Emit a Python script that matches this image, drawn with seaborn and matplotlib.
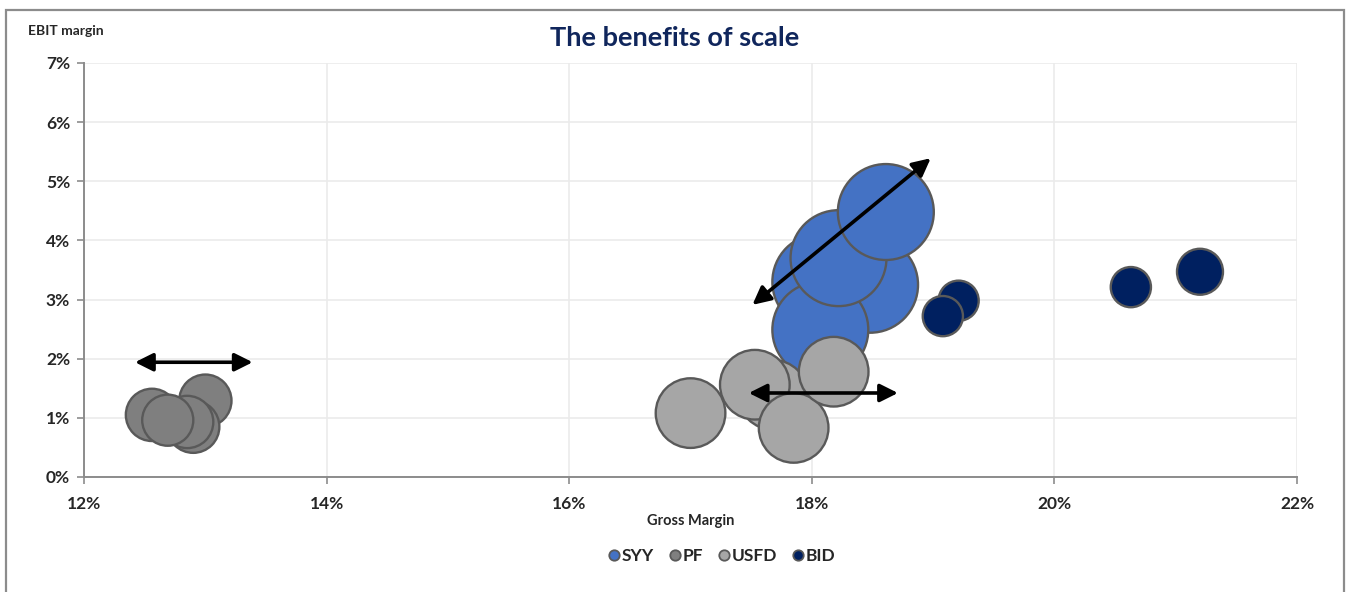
import matplotlib
matplotlib.use("Agg")
import matplotlib.pyplot as plt
from matplotlib.lines import Line2D
from matplotlib.patches import Rectangle
import seaborn as sns
import pandas as pd

# Companies and their colours
companies = ["SYY", "PF", "USFD", "BID"]
colors = ["#4472C4", "#7F7F7F", "#A6A6A6", "#002060"]

# Gross margin (%), EBIT margin (%) and revenue-scale weight for each year
syy_gross = [18.07, 18.48, 18.07, 18.22, 18.61]
syy_ebit = [3.30, 3.25, 2.49, 3.70, 4.48]
syy_scale = [37.0, 37.0, 37.0, 37.0, 37.0]

pf_gross = [12.56, 13.00, 12.90, 12.85, 12.69]
pf_ebit = [1.05, 1.29, 0.85, 0.93, 0.96]
pf_scale = [11.0, 11.0, 11.0, 11.0, 10.5]

usfd_gross = [17.00, 17.68, 17.53, 17.85, 18.18]
usfd_ebit = [1.08, 1.39, 1.56, 0.83, 1.78]
usfd_scale = [19.5, 19.5, 19.5, 19.5, 19.5]

bid_gross = [19.21, 19.08, 20.63, 21.20]
bid_ebit = [2.98, 2.72, 3.21, 3.47]
bid_scale = [6.5, 6.5, 6.5, 8.5]

# Arrows: (x0, y0, x1, y1) in data units
arrow_pf = (12.42, 1.94, 13.39, 1.94)
arrow_syy = (17.51, 2.91, 18.98, 5.39)
arrow_usfd = (17.48, 1.42, 18.71, 1.42)

x_ticks = [12, 14, 16, 18, 20, 22]
y_ticks = [0, 1, 2, 3, 4, 5, 6, 7]

rows = []
for name, gx, ey, sc in [
    ("SYY", syy_gross, syy_ebit, syy_scale),
    ("PF", pf_gross, pf_ebit, pf_scale),
    ("USFD", usfd_gross, usfd_ebit, usfd_scale),
    ("BID", bid_gross, bid_ebit, bid_scale),
]:
    for a, b, c in zip(gx, ey, sc):
        rows.append({"company": name, "gross": a, "ebit": b, "scale": c})
df = pd.DataFrame(rows)

sns.set_theme(style="white")
plt.rcParams["font.family"] = ["Lato", "DejaVu Sans"]

fig = plt.figure(figsize=(13.47, 5.92), dpi=100)
ax = fig.add_axes([0.0624, 0.1943, 0.9005, 0.6993])

max_area = 4900.0
sns.scatterplot(
    data=df, x="gross", y="ebit", hue="company", hue_order=companies,
    palette=colors, size="scale", sizes=(0, max_area), size_norm=(0, 38.0),
    edgecolor="#595959", linewidth=1.7, alpha=1.0, legend=False, ax=ax,
    zorder=3,
)

ax.set_xlim(12, 22)
ax.set_ylim(0, 7)
ax.set_xticks(x_ticks)
ax.set_yticks(y_ticks)
ax.set_xticklabels([f"{t}%" for t in x_ticks], fontsize=12.5, fontweight="bold")
ax.set_yticklabels([f"{t}%" for t in y_ticks], fontsize=12.5, fontweight="bold")
ax.grid(True, color="#EBEBEB", linewidth=1.2, zorder=0)
ax.set_axisbelow(True)
for side in ["top", "right"]:
    ax.spines[side].set_visible(False)
for side in ["left", "bottom"]:
    ax.spines[side].set_color("#8C8C8C")
    ax.spines[side].set_linewidth(1.4)
ax.tick_params(axis="both", which="major", length=5, width=1.2, color="#8C8C8C",
               direction="out", left=True, bottom=True)
ax.tick_params(axis="x", pad=9)
ax.tick_params(axis="y", pad=5)

ax.set_xlabel("Gross Margin", fontsize=10.5, fontweight="bold", labelpad=1)
ax.set_ylabel("")

for x0, y0, x1, y1 in [arrow_pf, arrow_syy, arrow_usfd]:
    ax.annotate("", xy=(x1, y1), xytext=(x0, y0),
                arrowprops=dict(arrowstyle="<|-|>,head_length=0.9,head_width=0.45",
                                color="black", lw=2.6, shrinkA=0, shrinkB=0),
                zorder=5)

fig.text(28 / 1347, 1 - 31 / 592, "EBIT margin", fontsize=10, fontweight="bold",
         ha="left", va="center")
fig.text(675 / 1347, 1 - 38 / 592, "The benefits of scale", fontsize=19.5,
         fontweight="bold", color="#10265C", ha="center", va="center")

handles = [Line2D([0], [0], marker="o", linestyle="", markersize=7.5,
                  markerfacecolor=c, markeredgecolor="#595959", markeredgewidth=1.3)
           for c in colors]
fig.legend(handles, companies, loc="center", bbox_to_anchor=(722 / 1347, 1 - 556 / 592),
           ncol=4, frameon=False, handlelength=0.6, handletextpad=0.15,
           columnspacing=0.9, prop={"weight": "bold", "size": 12.5})

fig.patches.append(Rectangle((6 / 1347, -0.05), (1344 - 6) / 1347, 1.05 - 10 / 592,
                             transform=fig.transFigure, fill=False,
                             edgecolor="#8C8C8C", linewidth=1.6))

fig.savefig("out.png", dpi=100, facecolor="white")
